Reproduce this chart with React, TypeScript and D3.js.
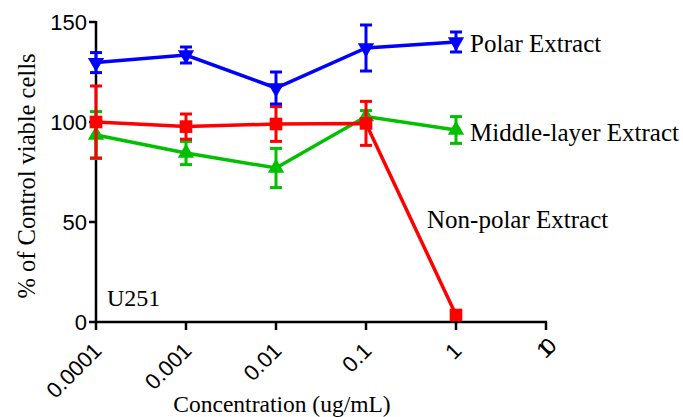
import React, { useEffect, useRef } from 'react';
import * as d3 from 'd3';

const concentrations = [0.0001, 0.001, 0.01, 0.1, 1];
const tickValues = [0.0001, 0.001, 0.01, 0.1, 1, 10];
const tickLabels = ['0.0001', '0.001', '0.01', '0.1', '1', '10'];
const yTicks = [0, 50, 100, 150];

const polarMean = [129.7, 133.5, 117, 137, 140];
const polarErr = [5, 4, 8, 11.5, 5];
const middleMean = [93.5, 84.5, 77, 102.7, 96];
const middleErr = [11.7, 5.8, 9.8, 3, 6.7];
const nonPolarMean = [100, 97.7, 99, 99.3, 3.5];
const nonPolarErr = [18, 6.3, 8.7, 11, 0];

const seriesNames = ['Polar Extract', 'Middle-layer Extract', 'Non-polar Extract'];

const width = 683;
const height = 417;
const margin = { top: 22, right: 137, bottom: 95, left: 96 };

const App = () => {
    const wrapper = useRef(null);

    useEffect(() => {
        d3.select(wrapper.current).selectAll('svg').remove();

        const svg = d3.select(wrapper.current)
            .append('svg')
            .attr('width', width)
            .attr('height', height)
            .style('position', 'absolute')
            .style('left', 0)
            .style('top', 0);

        const x = d3.scaleLog()
            .domain([0.0001, 10])
            .range([margin.left, width - margin.right]);

        const y = d3.scaleLinear()
            .domain([0, 150])
            .range([height - margin.bottom, margin.top]);

        const series = [
            { name: seriesNames[0], mean: polarMean, err: polarErr, color: '#0000ff', shape: 'down' },
            { name: seriesNames[2], mean: nonPolarMean, err: nonPolarErr, color: '#ff0000', shape: 'square' },
            { name: seriesNames[1], mean: middleMean, err: middleErr, color: '#00c000', shape: 'up' },
        ];
        // green under red, blue on top
        const drawOrder = [series[2], series[1], series[0]];

        const sans = 'Liberation Sans, Arial, sans-serif';
        const serif = 'Liberation Serif, Times New Roman, serif';

        // axes
        const yAxis = svg.append('g').attr('transform', `translate(${margin.left},0)`);
        yAxis.append('line')
            .attr('x1', 0).attr('x2', 0)
            .attr('y1', y(150) - 1).attr('y2', y(0) + 1)
            .attr('stroke', '#000').attr('stroke-width', 2.5);
        yAxis.selectAll('.ytick')
            .data(yTicks)
            .join('line')
            .attr('x1', -7).attr('x2', 0)
            .attr('y1', d => y(d)).attr('y2', d => y(d))
            .attr('stroke', '#000').attr('stroke-width', 2.5);
        yAxis.selectAll('.ylab')
            .data(yTicks)
            .join('text')
            .attr('x', -9)
            .attr('y', d => y(d) + 8)
            .attr('text-anchor', 'end')
            .style('font-family', sans)
            .style('font-size', '22px')
            .text(d => d);

        const xAxis = svg.append('g').attr('transform', `translate(0,${y(0)})`);
        xAxis.append('line')
            .attr('x1', x(0.0001) - 1).attr('x2', x(10) + 1)
            .attr('y1', 0).attr('y2', 0)
            .attr('stroke', '#000').attr('stroke-width', 2.5);
        xAxis.selectAll('.xtick')
            .data(tickValues)
            .join('line')
            .attr('x1', d => x(d)).attr('x2', d => x(d))
            .attr('y1', 0).attr('y2', 8)
            .attr('stroke', '#000').attr('stroke-width', 2.5);
        xAxis.selectAll('.xlab')
            .data(tickValues)
            .join('text')
            .attr('transform', d => `translate(${x(d) + 7},${30}) rotate(-45)`)
            .attr('text-anchor', 'end')
            .style('font-family', sans)
            .style('font-size', '22px')
            .style('letter-spacing', (d, i) => (i === 5 ? '-7px' : '0px'))
            .text((d, i) => tickLabels[i]);

        // series lines
        const line = d3.line()
            .x(d => x(d[0]))
            .y(d => y(d[1]));

        drawOrder.forEach(s => {
            const pts = concentrations.map((c, i) => [c, s.mean[i], s.err[i]]);
            const g = svg.append('g');

            g.append('path')
                .datum(pts)
                .attr('d', line)
                .attr('fill', 'none')
                .attr('stroke', s.color)
                .attr('stroke-width', 3.5);

            const bars = g.selectAll('.err')
                .data(pts.filter(d => d[2] > 0))
                .join('g');
            bars.append('line')
                .attr('x1', d => x(d[0])).attr('x2', d => x(d[0]))
                .attr('y1', d => y(d[1] + d[2])).attr('y2', d => y(d[1] - d[2]))
                .attr('stroke', s.color).attr('stroke-width', 3);
            [1, -1].forEach(sign => {
                bars.append('line')
                    .attr('x1', d => x(d[0]) - 6).attr('x2', d => x(d[0]) + 6)
                    .attr('y1', d => y(d[1] + sign * d[2])).attr('y2', d => y(d[1] + sign * d[2]))
                    .attr('stroke', s.color).attr('stroke-width', 3);
            });

            const sym = d3.symbol()
                .type(s.shape === 'square' ? d3.symbolSquare : d3.symbolTriangle)
                .size(s.shape === 'square' ? 160 : 115);

            g.selectAll('.pt')
                .data(pts)
                .join('path')
                .attr('d', sym)
                .attr('transform', d => `translate(${x(d[0])},${y(d[1])})${s.shape === 'down' ? ' rotate(180)' : ''}`)
                .attr('fill', s.color);
        });

        // annotations
        const labels = [
            { text: seriesNames[0], x: 470, y: 52, size: 25 },
            { text: seriesNames[1], x: 470, y: 141, size: 25 },
            { text: seriesNames[2], x: 427, y: 228, size: 25 },
            { text: 'U251', x: 107, y: 306, size: 24 },
        ];
        svg.append('g')
            .selectAll('text')
            .data(labels)
            .join('text')
            .attr('x', d => d.x)
            .attr('y', d => d.y)
            .style('font-family', serif)
            .style('font-size', d => `${d.size}px`)
            .text(d => d.text);

        svg.append('text')
            .attr('transform', `translate(35,176) rotate(-90)`)
            .attr('text-anchor', 'middle')
            .style('font-family', serif)
            .style('font-size', '24.5px')
            .text('% of Control viable cells');

        svg.append('text')
            .attr('x', 282)
            .attr('y', 412)
            .attr('text-anchor', 'middle')
            .style('font-family', serif)
            .style('font-size', '23.5px')
            .text('Concentration (ug/mL)');
    }, []);

    return (
        <div ref={wrapper} />
    );
};

export { App as default };
